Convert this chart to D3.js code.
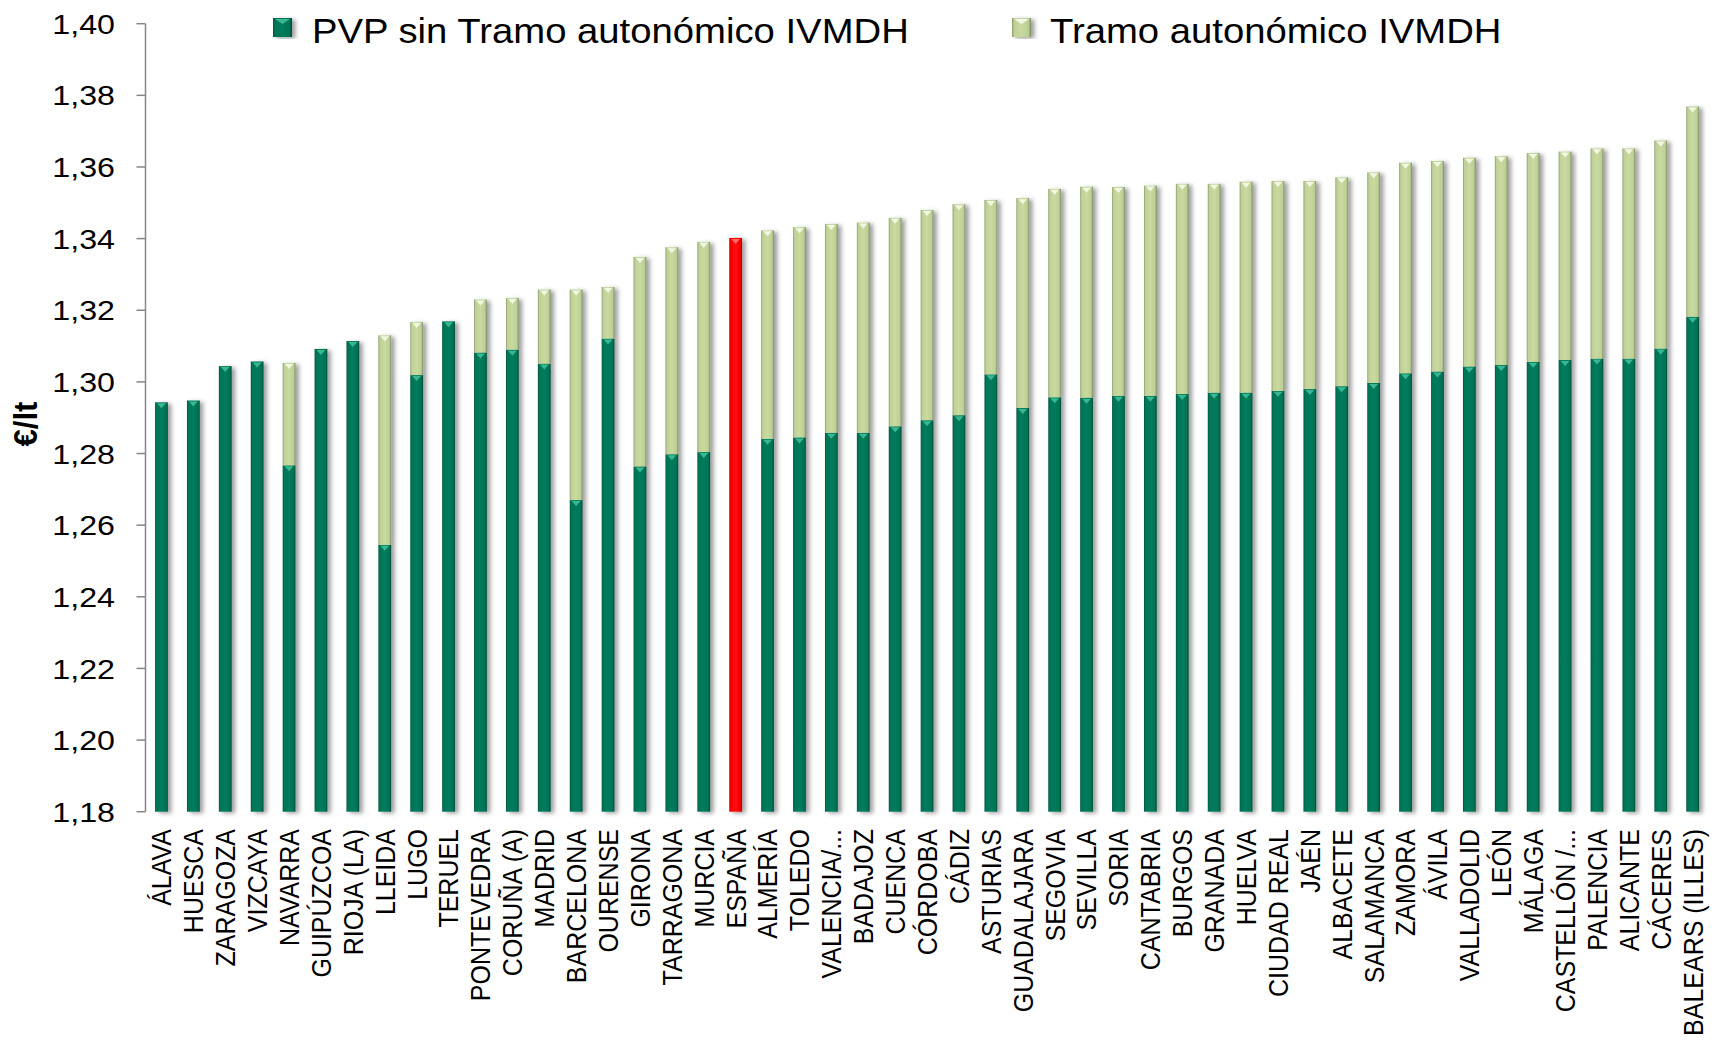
<!DOCTYPE html>
<html>
<head>
<meta charset="utf-8">
<script src="https://cdn.jsdelivr.net/npm/d3@7"></script>
<style>
  body { margin: 0; background: #fff; }
  svg { display: block; font-family: Arial, "Liberation Sans", sans-serif; }
</style>
</head>
<body>
<svg id="chart" width="1714" height="1042"></svg>
<script>
/* Precio gasóleo por provincia: PVP sin tramo + tramo autonómico IVMDH */

const categories = [
  "ÁLAVA", "HUESCA", "ZARAGOZA", "VIZCAYA", "NAVARRA", "GUIPÚZCOA", "RIOJA (LA)",
  "LLEIDA", "LUGO", "TERUEL", "PONTEVEDRA", "CORUÑA (A)", "MADRID", "BARCELONA",
  "OURENSE", "GIRONA", "TARRAGONA", "MURCIA", "ESPAÑA", "ALMERÍA", "TOLEDO",
  "VALENCIA/...", "BADAJOZ", "CUENCA", "CÓRDOBA", "CÁDIZ", "ASTURIAS", "GUADALAJARA",
  "SEGOVIA", "SEVILLA", "SORIA", "CANTABRIA", "BURGOS", "GRANADA", "HUELVA",
  "CIUDAD REAL", "JAÉN", "ALBACETE", "SALAMANCA", "ZAMORA", "ÁVILA", "VALLADOLID",
  "LEÓN", "MÁLAGA", "CASTELLÓN /...", "PALENCIA", "ALICANTE", "CÁCERES", "BALEARS (ILLES)"
];

/* PVP sin Tramo autonómico IVMDH (€/lt) */
const pvpBase = [
  1.2943, 1.2948, 1.3044, 1.3057, 1.2767, 1.3092, 1.3114,
  1.2545, 1.3019, 1.3169, 1.3082, 1.3090, 1.3051, 1.2670,
  1.3121, 1.2764, 1.2798, 1.2804, 1.3402, 1.2841, 1.2845,
  1.2858, 1.2858, 1.2876, 1.2893, 1.2907, 1.3021, 1.2927,
  1.2957, 1.2956, 1.2961, 1.2961, 1.2966, 1.2970, 1.2970,
  1.2975, 1.2980, 1.2988, 1.2997, 1.3024, 1.3029, 1.3043,
  1.3047, 1.3056, 1.3061, 1.3065, 1.3065, 1.3093, 1.3182
];

/* Tramo autonómico IVMDH (€/lt) */
const tramo = [
  0, 0, 0, 0, 0.0286, 0, 0,
  0.0585, 0.0148, 0, 0.0148, 0.0144, 0.0207, 0.0588,
  0.0144, 0.0585, 0.0578, 0.0587, 0, 0.0582, 0.0587,
  0.0583, 0.0587, 0.0582, 0.0587, 0.0589, 0.0487, 0.0586,
  0.0582, 0.0589, 0.0583, 0.0587, 0.0587, 0.0583, 0.0589,
  0.0586, 0.0581, 0.0583, 0.0588, 0.0588, 0.0588, 0.0583,
  0.0583, 0.0583, 0.0582, 0.0587, 0.0587, 0.0581, 0.0587
];

const highlight = "ESPAÑA";
const yTicks = [1.18, 1.20, 1.22, 1.24, 1.26, 1.28, 1.30, 1.32, 1.34, 1.36, 1.38, 1.40];
const seriesNames = ["PVP sin Tramo autonómico IVMDH", "Tramo autonómico IVMDH"];

const svg = d3.select("#chart");
svg.append("rect").attr("width", 1714).attr("height", 1042).attr("fill", "#fff");

const x = d3.scaleBand()
  .domain(categories)
  .range([145.5, 1708.6])
  .paddingInner(0.6)
  .paddingOuter(0.3);

const y = d3.scaleLinear().domain([1.18, 1.40]).range([811.7, 23.7]);

/* gradients + shadow */
const defs = svg.append("defs");
const looks = {
  dark:  { stops: ["#00553e", "#007656", "#007b5d", "#007353", "#004a36"], bevel: "#3fbf98" },
  light: { stops: ["#8c9a70", "#bfd195", "#c8daa0", "#bccf93", "#7d8965"], bevel: "#f6f9ea" },
  red:   { stops: ["#b80000", "#fa0000", "#ff0d0d", "#f00000", "#a80000"], bevel: "#ff7070" }
};
Object.entries(looks).forEach(([k, v]) => {
  const g = defs.append("linearGradient").attr("id", "grad-" + k)
    .attr("x1", "0%").attr("x2", "100%").attr("y1", "0%").attr("y2", "0%");
  [0, 12, 50, 86, 100].forEach((o, i) => {
    g.append("stop").attr("offset", o + "%").attr("stop-color", v.stops[i]);
  });
});
const f = defs.append("filter").attr("id", "shadow")
  .attr("x", "-50%").attr("y", "-10%").attr("width", "200%").attr("height", "120%");
f.append("feDropShadow").attr("dx", 3.5).attr("dy", 1.5).attr("stdDeviation", 2.2)
  .attr("flood-color", "#000").attr("flood-opacity", 0.38);

function drawSegment(g, x0, w, yTop, yBot, look) {
  g.append("rect")
    .attr("x", x0).attr("y", yTop)
    .attr("width", w).attr("height", Math.max(0, yBot - yTop))
    .attr("fill", `url(#grad-${look})`);
  /* small bevel on top of each segment */
  g.append("path")
    .attr("d", `M${x0 + 2},${yTop + 1} L${x0 + w - 2},${yTop + 1} L${x0 + w / 2},${yTop + 6} Z`)
    .attr("fill", looks[look].bevel)
    .attr("opacity", 0.9);
}

/* bars */
const barsG = svg.append("g").attr("filter", "url(#shadow)");
categories.forEach((c, i) => {
  const x0 = x(c), w = x.bandwidth();
  const g = barsG.append("g");
  if (c === highlight) {
    drawSegment(g, x0, w, y(pvpBase[i] + tramo[i]), y(1.18), "red");
    return;
  }
  drawSegment(g, x0, w, y(pvpBase[i]), y(1.18), "dark");
  if (tramo[i] > 0) {
    drawSegment(g, x0, w, y(pvpBase[i] + tramo[i]), y(pvpBase[i]), "light");
  }
});

/* y axis */
const axisG = svg.append("g");
axisG.append("line")
  .attr("x1", 145.5).attr("x2", 145.5).attr("y1", y(1.40)).attr("y2", y(1.18))
  .attr("stroke", "#868686").attr("stroke-width", 1.5);
yTicks.forEach(t => {
  axisG.append("line")
    .attr("x1", 136.5).attr("x2", 145.5).attr("y1", y(t)).attr("y2", y(t))
    .attr("stroke", "#868686").attr("stroke-width", 1.5);
  axisG.append("text")
    .attr("transform", `translate(115,${y(t)}) scale(1.15,1)`)
    .attr("text-anchor", "end")
    .attr("dy", "0.36em")
    .attr("font-size", 28)
    .attr("fill", "#000")
    .text(t.toFixed(2).replace(".", ","));
});

/* y title */
svg.append("text")
  .attr("transform", "translate(25,424) scale(1.1,1) rotate(-90)")
  .attr("text-anchor", "middle")
  .attr("dy", "0.36em")
  .attr("font-size", 31)
  .attr("font-weight", "bold")
  .text("€/lt");

/* category labels */
categories.forEach(c => {
  svg.append("text")
    .attr("transform", `translate(${x(c) + x.bandwidth() / 2},829) scale(1.1,1) rotate(-90)`)
    .attr("text-anchor", "end")
    .attr("dy", "0.36em")
    .attr("font-size", 25)
    .attr("fill", "#000")
    .text(c);
});

/* legend */
const legendItems = [
  { name: seriesNames[0], look: "dark", mx: 273, tx: 312 },
  { name: seriesNames[1], look: "light", mx: 1012, tx: 1050 }
];
legendItems.forEach(d => {
  const g = svg.append("g").attr("filter", "url(#shadow)");
  drawSegment(g, d.mx, 19, 18, 37, d.look);
  svg.append("text")
    .attr("transform", `translate(${d.tx},43) scale(1.063,1)`)
    .attr("font-size", 36)
    .attr("fill", "#000")
    .text(d.name);
});
</script>
</body>
</html>
